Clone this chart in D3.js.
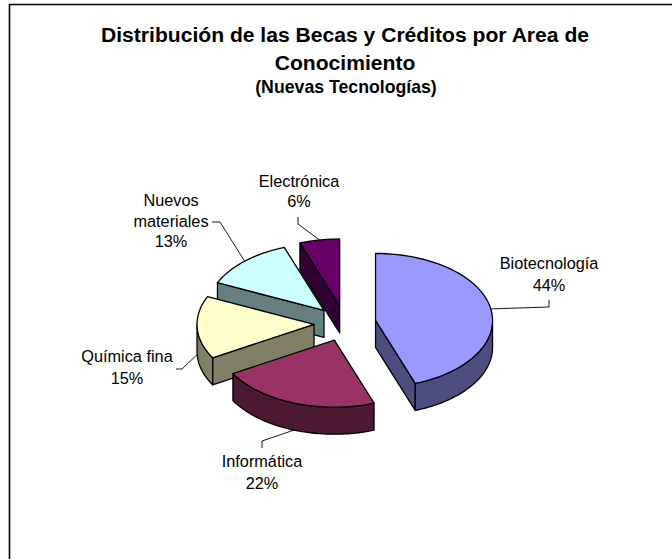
<!DOCTYPE html>
<html><head><meta charset="utf-8">
<script src="https://cdn.jsdelivr.net/npm/d3@7"></script>
<style>html,body{margin:0;padding:0;background:#fff}svg{display:block}text{font-family:"Liberation Sans",Arial,sans-serif;fill:#000}</style>
</head><body><svg id="c" width="672" height="559"></svg>
<script>
const categories = ["Biotecnología","Informática","Química fina","Nuevos materiales","Electrónica"];
const values = [44.49,22.2,15.1,12.7,5.51];
const percentLabels = ["44%","22%","15%","13%","6%"];
const topColors = ["#9999FF","#993366","#FFFFCC","#CCFFFF","#660066"];
const wallColors = ["#4D4D80","#4D1933","#808066","#668080","#330033"];
const titleLines = ["Distribución de las Becas y Créditos por Area de","Conocimiento"];
const subtitle = "(Nuevas Tecnologías)";
const labelLines = [["Biotecnología"],["Informática"],["Química fina"],["Nuevos","materiales"],["Electrónica"]];

// layout (not data)
const W=672,H=559, cx=345, cy=323.5, rx=117, ry=67, depth=27, explode=31;
const labelAt = [
 {x:549,y:269,dy:22,leader:[[549,307],[549,300]]},
 {x:262,y:467,dy:22,leader:[[262,441],[262,448]]},
 {x:127,y:362,dy:22,leader:[[182,369],[176,369]]},
 {x:171,y:206,dy:20.5,leader:[[220,222],[212,222]]},
 {x:299,y:187,dy:20,leader:[[298,224],[298,217]]}
];

const svg=d3.select("#c");
svg.append("path").attr("d",`M${W},4.5H9.5V${H}`).attr("fill","none").attr("stroke","#000").attr("stroke-width",1.6);

svg.selectAll("text.t").data(titleLines).join("text").attr("class","t")
  .attr("x",345).attr("y",(d,i)=>42+i*28).attr("text-anchor","middle")
  .attr("font-weight","bold").attr("font-size",21.1).text(d=>d);
svg.append("text").attr("x",346).attr("y",93).attr("text-anchor","middle")
  .attr("font-weight","bold").attr("font-size",17.7).text(subtitle);

const pie=d3.pie().sort(null).value(d=>d.v);
const arcs=pie(values.map((v,i)=>({v,i})));
const sx=d3.scaleLinear().domain([-1,1]).range([-rx,rx]);
const sy=d3.scaleLinear().domain([-1,1]).range([-ry,ry]);
const line=d3.line();
function geom(a){
  const mid=(a.startAngle+a.endAngle)/2;
  const ax=cx+sx(Math.sin(mid)*explode/rx), ay=cy+sy(-Math.cos(mid)*explode/rx);
  const pt=t=>[ax+sx(Math.sin(t)),ay+sy(-Math.cos(t))];
  const down=p=>[p[0],p[1]+depth];
  const rim=(t0,t1)=>d3.range(0,61).map(k=>pt(t0+(t1-t0)*k/60));
  return {mid,apex:[ax,ay],pt,down,rim};
}
const g=svg.append("g").attr("stroke","#000").attr("stroke-width",1.3).attr("stroke-linejoin","round");
// paint back to front
[4,3,2,1,0].forEach(i=>{
  const a=arcs[i], s=geom(a), t0=a.startAngle, t1=a.endAngle;
  const face=p=>g.append("path").attr("d",line([s.apex,p,s.down(p),s.down(s.apex)])+"Z").attr("fill",wallColors[i]);
  if(Math.sin(t0)<-1e-6) face(s.pt(t0));
  if(Math.sin(t1)>1e-6) face(s.pt(t1));
  const lo=Math.max(t0,Math.PI/2), hi=Math.min(t1,3*Math.PI/2);
  if(hi>lo){
    const r=s.rim(lo,hi);
    g.append("path").attr("d",line(r.concat(r.slice().reverse().map(s.down)))+"Z").attr("fill",wallColors[i]);
  }
  g.append("path").attr("d",line([s.apex].concat(s.rim(t0,t1)))+"Z").attr("fill",topColors[i]);
});
// leaders + labels
arcs.forEach((a,i)=>{
  const s=geom(a), p=s.pt(s.mid), lay=labelAt[i];
  const start=Math.cos(s.mid)<0?s.down(p):p;
  svg.append("path").attr("d",line([start].concat(lay.leader))).attr("fill","none").attr("stroke","#000").attr("stroke-width",0.9);
  const lines=labelLines[i].concat([percentLabels[i]]);
  svg.selectAll(null).data(lines).join("text").attr("x",lay.x).attr("y",(d,k)=>lay.y+k*lay.dy)
    .attr("text-anchor","middle").attr("font-size",16.3).text(d=>d);
});
</script></body></html>
